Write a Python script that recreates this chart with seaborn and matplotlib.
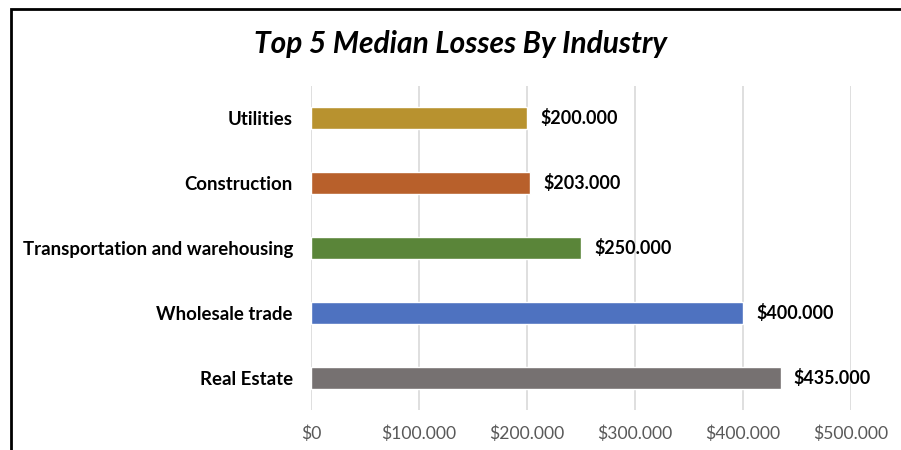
import matplotlib
matplotlib.use("Agg")
import matplotlib.pyplot as plt
from matplotlib.patches import Rectangle
import seaborn as sns
import pandas as pd

industries = ["Utilities", "Construction", "Transportation and warehousing",
              "Wholesale trade", "Real Estate"]
median_losses = [200000, 203000, 250000, 400000, 435000]
bar_colors = ["#B8922F", "#B8602B", "#5A8539", "#4E72C0", "#767171"]
x_ticks = [0, 100000, 200000, 300000, 400000, 500000]
x_tick_labels = ["$0", "$100.000", "$200.000", "$300.000", "$400.000", "$500.000"]
title = "Top 5 Median Losses By Industry"

sns.set_theme(style="white")
plt.rcParams["font.family"] = ["Lato", "DejaVu Sans"]

df = pd.DataFrame({"industry": industries, "loss": median_losses})

fig = plt.figure(figsize=(9.01, 4.5), dpi=100)
ax = fig.add_axes([311 / 901, 1 - 410 / 450, 540 / 901, 324 / 450])

sns.barplot(data=df, x="loss", y="industry", hue="industry",
            palette=bar_colors, order=industries, width=0.34,
            orient="h", legend=False, ax=ax, saturation=1)

ax.set_xlim(0, 500000)
ax.set_xticks(x_ticks)
ax.set_xticklabels(x_tick_labels, fontsize=12.6, color="#595959")
ax.tick_params(axis="x", length=0, pad=11)
ax.tick_params(axis="y", length=0, pad=13)
for lbl in ax.get_yticklabels():
    lbl.set_fontweight("bold")
    lbl.set_fontsize(13.4)
    lbl.set_color("black")
ax.set_xlabel("")
ax.set_ylabel("")
ax.grid(axis="x", color="#D9D9D9", linewidth=1.2)
ax.set_axisbelow(True)
for s in ax.spines.values():
    s.set_visible(False)

for i, v in enumerate(median_losses):
    ax.text(v + 12000, i, "$" + f"{v:,}".replace(",", "."),
            va="center", ha="left", fontsize=12.9, fontweight="bold", color="black")

fig.text(460 / 901, 1 - 44 / 450, title, ha="center", va="center",
         fontsize=21.5, fontweight="bold", fontstyle="italic", color="black")

fig.patches.append(Rectangle((11 / 901, -0.1), 1.2, (450 - 9) / 450 + 0.1,
                             transform=fig.transFigure, fill=False,
                             edgecolor="black", linewidth=2))

fig.savefig("out.png", dpi=100)
